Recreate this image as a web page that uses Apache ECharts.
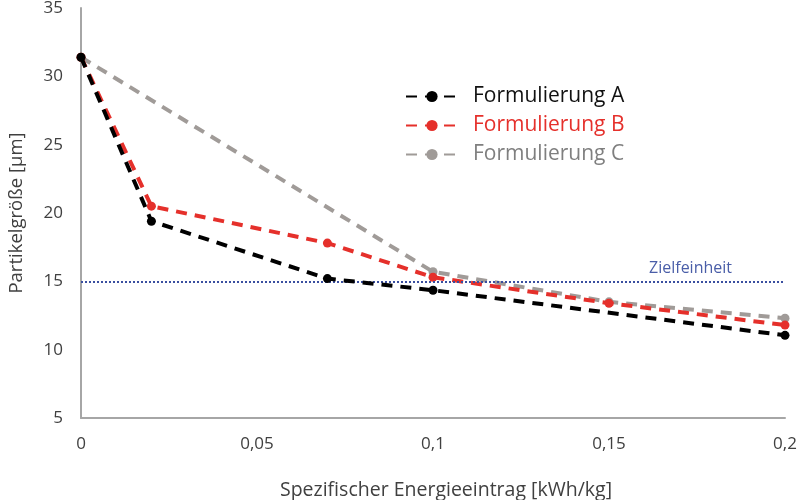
<!DOCTYPE html>
<html><head><meta charset="utf-8">
<script src="https://cdn.jsdelivr.net/npm/echarts@6/dist/echarts.min.js"></script>
<style>html,body{margin:0;padding:0;background:#fff}#c{width:800px;height:500px}</style>
</head><body><div id="c"></div>
<script>
const seriesNames = ['Formulierung A', 'Formulierung B', 'Formulierung C'];
const dataA = [[0, 31.4], [0.02, 19.4], [0.07, 15.2], [0.1, 14.35], [0.2, 11.05]];
const dataB = [[0, 31.4], [0.02, 20.5], [0.07, 17.8], [0.1, 15.3], [0.15, 13.4], [0.2, 11.8]];
const dataC = [[0, 31.4], [0.1, 15.7], [0.15, 13.5], [0.2, 12.3]];
const targetValue = 15;
const targetLabel = 'Zielfeinheit';
const xTicks = {min: 0, max: 0.2, interval: 0.05};
const yTicks = {min: 5, max: 35, interval: 5};
const colors = ['#000000', '#e5302b', '#a09b98'];
const textColors = ['#111111', '#e5302b', '#7f7f7f'];

const chart = echarts.init(document.getElementById('c'));
const font = '"Open Sans", sans-serif';
function mk(name, data, i, extra) {
  return Object.assign({
    name: name, type: 'line', data: data,
    symbol: 'circle', symbolSize: 9,
    itemStyle: {color: colors[i]},
    lineStyle: {color: colors[i], width: 4, type: [11, 8]},
    z: 3 + i
  }, extra || {});
}
chart.setOption({
  animation: false,
  textStyle: {fontFamily: font},
  grid: {left: 81, right: 15, top: 8, bottom: 82, containLabel: false, outerBoundsMode: 'none'},
  legend: {
    orient: 'vertical', left: 400, top: 81, itemWidth: 52, itemHeight: 14, itemGap: 8,
    textStyle: {fontSize: 21, fontFamily: font, padding: [0, 0, 0, 10]},
    data: seriesNames.map((n, i) => ({name: n, textStyle: {color: textColors[i]}}))
  },
  xAxis: {
    type: 'value', min: xTicks.min, max: xTicks.max, interval: xTicks.interval,
    name: 'Spezifischer Energieeintrag [kWh/kg]', nameLocation: 'middle', nameGap: 62,
    nameTextStyle: {fontSize: 19.5, color: '#404040', fontFamily: font, padding: [0, 0, 0, 26]},
    axisLine: {lineStyle: {color: '#a6a6a6', width: 2}},
    axisTick: {show: false}, splitLine: {show: false},
    axisLabel: {fontSize: 17, color: '#404040', margin: 18, fontFamily: font,
      formatter: v => String(+v.toFixed(2)).replace('.', ',')}
  },
  yAxis: {
    type: 'value', min: yTicks.min, max: yTicks.max, interval: yTicks.interval,
    name: 'Partikelgröße [µm]', nameLocation: 'middle', nameGap: 55,
    nameTextStyle: {fontSize: 18.5, color: '#404040', fontFamily: font},
    axisLine: {show: true, lineStyle: {color: '#a6a6a6', width: 2}},
    axisTick: {show: false}, splitLine: {show: false},
    axisLabel: {fontSize: 17, color: '#404040', margin: 18, fontFamily: font}
  },
  series: [
    mk(seriesNames[2], dataC, 2, {z: 3}),
    mk(seriesNames[1], dataB, 1, {z: 4}),
    mk(seriesNames[0], dataA, 0, {z: 5,
      markLine: {
        silent: true, symbol: 'none',
        lineStyle: {color: '#3a4fa0', width: 2, type: [2, 2]},
        label: {show: true, formatter: targetLabel, position: 'insideEndTop',
          color: '#4a5ea8', fontSize: 16, fontFamily: font, padding: [0, 48, 0, 0]},
        data: [{yAxis: targetValue}]
      }})
  ]
});
</script></body></html>
